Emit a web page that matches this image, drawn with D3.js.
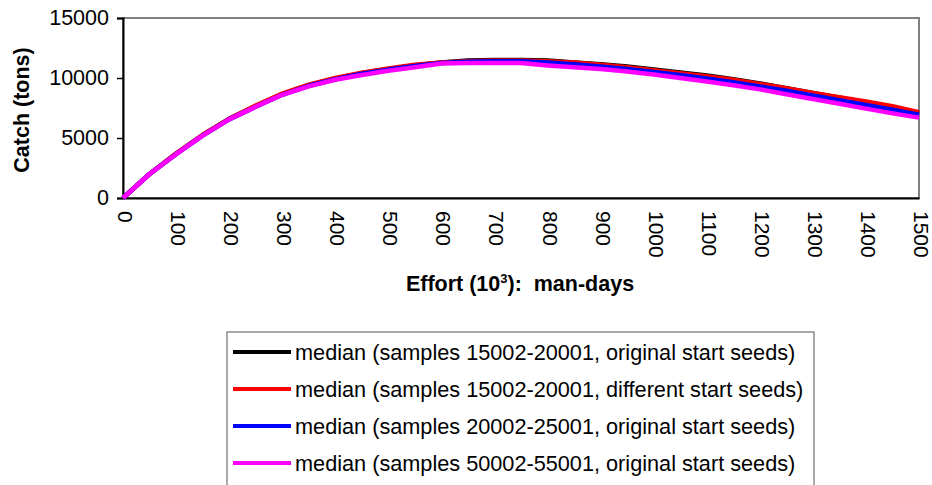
<!DOCTYPE html>
<html>
<head>
<meta charset="utf-8">
<script src="https://cdn.jsdelivr.net/npm/d3@7.9.0/dist/d3.min.js"></script>
<style>
  html, body { margin: 0; padding: 0; background: #fff; }
  svg { display: block; font-family: "Liberation Sans", Arial, sans-serif; }
</style>
</head>
<body>
<svg id="chart" width="932" height="485"></svg>
<script>
// effort values (10^3 man-days)
const effort = [0, 50, 100, 150, 200, 250, 300, 350, 400, 450, 500, 550, 600, 650, 700, 750,
                800, 850, 900, 950, 1000, 1050, 1100, 1150, 1200, 1250, 1300, 1350, 1400, 1450, 1500];

// median catch (tons)
const blackSeries = [0, 2000, 3700, 5250, 6600, 7650, 8650, 9400, 9950, 10400, 10750, 11050, 11300, 11450, 11500, 11500,
                     11450, 11300, 11150, 10950, 10700, 10450, 10200, 9900, 9550, 9150, 8750, 8350, 7950, 7500, 7050];
const redSeries   = [0, 2000, 3700, 5250, 6600, 7700, 8700, 9450, 10000, 10450, 10800, 11100, 11300, 11400, 11450, 11450,
                     11400, 11300, 11100, 10900, 10650, 10400, 10150, 9850, 9500, 9150, 8750, 8400, 8050, 7650, 7150];
const blueSeries  = [0, 2000, 3650, 5200, 6550, 7600, 8600, 9350, 9900, 10350, 10700, 11000, 11250, 11350, 11400, 11400,
                     11300, 11150, 10950, 10750, 10500, 10250, 9950, 9650, 9300, 8950, 8550, 8150, 7750, 7350, 6950];
const pinkSeries  = [0, 2000, 3650, 5200, 6550, 7600, 8600, 9300, 9850, 10250, 10600, 10900, 11200, 11250, 11250, 11250,
                     11050, 10900, 10750, 10550, 10300, 10000, 9700, 9400, 9050, 8650, 8250, 7850, 7450, 7050, 6700];

const seriesNames = [
  "median (samples 15002-20001, original start seeds)",
  "median (samples 15002-20001, different start seeds)",
  "median (samples 20002-25001, original start seeds)",
  "median (samples 50002-55001, original start seeds)"
];
const seriesColors = ["#000000", "#ff0000", "#0000ff", "#ff00ff"];
const seriesValues = [blackSeries, redSeries, blueSeries, pinkSeries];

const xTicks = d3.range(0, 1501, 100);
const yTicks = [0, 5000, 10000, 15000];

const svg = d3.select("#chart");
const plot = { left: 123, right: 919, top: 18, bottom: 198 };

const x = d3.scaleLinear().domain([0, 1500]).range([plot.left, plot.right]);
const y = d3.scaleLinear().domain([0, 15000]).range([plot.bottom, plot.top]);

// plot area frame (top/right grey like Excel)
svg.append("rect")
  .attr("x", plot.left).attr("y", plot.top)
  .attr("width", plot.right - plot.left).attr("height", plot.bottom - plot.top)
  .attr("fill", "none").attr("stroke", "#808080").attr("stroke-width", 2);

// y axis
const yAxis = svg.append("g")
  .attr("transform", `translate(${plot.left},0)`)
  .call(d3.axisLeft(y).tickValues(yTicks).tickSize(6).tickPadding(8).tickFormat(d3.format("d")));
yAxis.select(".domain").attr("stroke", "#000").attr("stroke-width", 2);
yAxis.selectAll(".tick line").attr("stroke", "#000").attr("stroke-width", 1.5);
yAxis.selectAll(".tick text").attr("font-size", 21.5).attr("fill", "#000")
  .attr("font-family", "'Liberation Sans', Arial, sans-serif");

// x axis
const xAxis = svg.append("g")
  .attr("transform", `translate(0,${plot.bottom})`)
  .call(d3.axisBottom(x).tickValues(xTicks).tickSize(0).tickFormat(d3.format("d")));
xAxis.select(".domain").attr("stroke", "#000").attr("stroke-width", 2);
xAxis.selectAll(".tick text")
  .attr("font-size", 21).attr("fill", "#000")
  .attr("font-family", "'Liberation Sans', Arial, sans-serif")
  .attr("text-anchor", "start")
  .attr("dy", null)
  .attr("y", 0)
  .attr("dominant-baseline", "central")
  .attr("transform", "translate(2,13) rotate(90)");

// lines
const line = d3.line()
  .x((d, i) => x(effort[i]))
  .y(d => y(d));

svg.append("g").selectAll("path")
  .data(seriesValues)
  .join("path")
  .attr("d", line)
  .attr("fill", "none")
  .attr("stroke", (d, i) => seriesColors[i])
  .attr("stroke-width", 4.5)
  .attr("stroke-linejoin", "round");

// axis titles
svg.append("text")
  .attr("transform", "translate(22,110) rotate(-90)")
  .attr("text-anchor", "middle")
  .attr("dominant-baseline", "central")
  .attr("font-size", 21.5).attr("font-weight", "bold")
  .text("Catch (tons)");

const xt = svg.append("text")
  .attr("x", 520).attr("y", 291)
  .attr("text-anchor", "middle")
  .style("white-space", "pre")
  .attr("font-size", 21.5).attr("font-weight", "bold");
xt.append("tspan").text("Effort (10");
xt.append("tspan").attr("font-size", 13).attr("dy", -8).text("3");
xt.append("tspan").attr("dy", 8).text("):  man-days");

// legend
const legend = svg.append("g");
legend.append("rect")
  .attr("x", 227).attr("y", 332)
  .attr("width", 587).attr("height", 170)
  .attr("fill", "#fff").attr("stroke", "#555").attr("stroke-width", 1);

const rowY = d3.scalePoint().domain(d3.range(seriesNames.length)).range([352, 463]);
const items = legend.selectAll("g.item")
  .data(seriesNames)
  .join("g")
  .attr("class", "item")
  .attr("transform", (d, i) => `translate(0,${rowY(i)})`);
items.append("line")
  .attr("x1", 233).attr("x2", 291)
  .attr("stroke", (d, i) => seriesColors[i])
  .attr("stroke-width", 4);
items.append("text")
  .attr("x", 295)
  .attr("dominant-baseline", "central")
  .attr("font-size", 21.7)
  .text(d => d);
</script>
</body>
</html>
